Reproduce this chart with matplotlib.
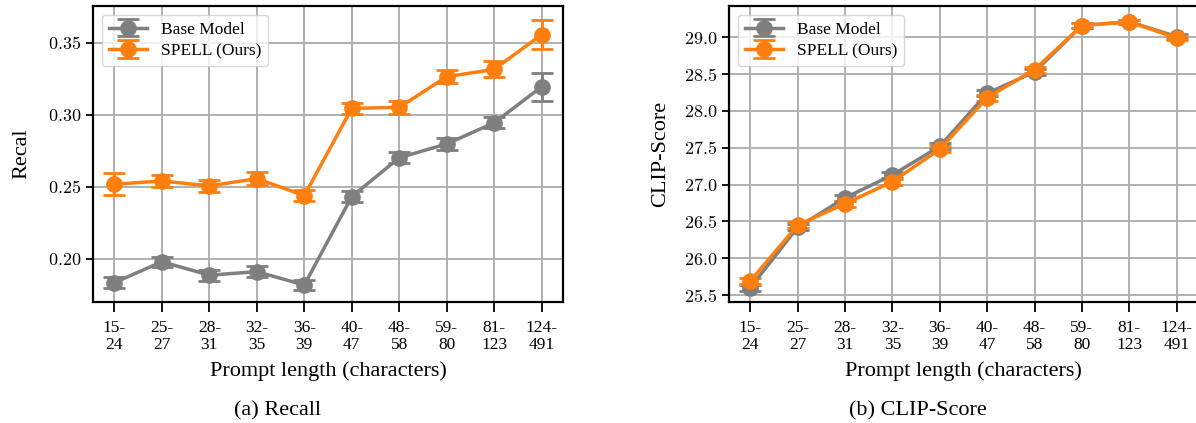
import numpy
import matplotlib
matplotlib.use("Agg")
import matplotlib.pyplot as plt
from matplotlib.ticker import FormatStrFormatter, MultipleLocator

length_bins = ["15-\n24", "25-\n27", "28-\n31", "32-\n35", "36-\n39",
               "40-\n47", "48-\n58", "59-\n80", "81-\n123", "124-\n491"]

recall_base = [0.1833, 0.1979, 0.1885, 0.1910, 0.1817, 0.2431, 0.2701, 0.2797, 0.2944, 0.3194]
recall_base_err = [0.0039, 0.0035, 0.0037, 0.0040, 0.0035, 0.0037, 0.0037, 0.0039, 0.0038, 0.0097]
recall_spell = [0.2517, 0.2540, 0.2505, 0.2556, 0.2438, 0.3044, 0.3051, 0.3264, 0.3315, 0.3556]
recall_spell_err = [0.0076, 0.0040, 0.0044, 0.0045, 0.0040, 0.0038, 0.0046, 0.0044, 0.0056, 0.0102]

clip_base = [25.60, 26.42, 26.82, 27.13, 27.52, 28.24, 28.53, 29.16, 29.21, 29.01]
clip_base_err = [0.04, 0.04, 0.04, 0.04, 0.04, 0.04, 0.04, 0.03, 0.03, 0.03]
clip_spell = [25.69, 26.45, 26.74, 27.04, 27.48, 28.18, 28.56, 29.16, 29.21, 28.99]
clip_spell_err = [0.04, 0.04, 0.04, 0.04, 0.04, 0.04, 0.04, 0.03, 0.03, 0.03]

plt.rcParams["font.family"] = ["Liberation Serif", "DejaVu Serif"]
plt.rcParams["mathtext.fontset"] = "cm"

GRAY = "#7f7f7f"
ORANGE = "#ff7f0e"


def draw_panel(ax, base, base_err, spell, spell_err, ylabel, yfmt, ypad):
    x = numpy.arange(len(length_bins))
    style = dict(marker="o", markersize=11, linewidth=2.5, elinewidth=2,
                 capsize=8, capthick=2)
    ax.errorbar(x, base, yerr=base_err, color=GRAY, label="Base Model", **style)
    ax.errorbar(x, spell, yerr=spell_err, color=ORANGE, label="SPELL (Ours)", **style)
    ax.set_xticks(x)
    ax.set_xticklabels(length_bins, fontsize=12.5, linespacing=1.1)
    ax.yaxis.set_major_formatter(FormatStrFormatter(yfmt))
    ax.tick_params(axis="y", labelsize=13, length=5, width=1.3)
    ax.tick_params(axis="x", length=7, width=1.3, pad=6)
    ax.grid(True, color="#b0b0b0", linewidth=1.4)
    ax.set_axisbelow(True)
    for s in ax.spines.values():
        s.set_linewidth(1.6)
    ax.set_xlabel("Prompt length (characters)", fontsize=16, labelpad=6)
    ax.set_ylabel(ylabel, fontsize=16, labelpad=ypad)
    ax.legend(loc="upper left", fontsize=12.5, framealpha=0.8, edgecolor="#cccccc",
              handlelength=2.2, borderpad=0.4, labelspacing=0.3)


fig = plt.figure(figsize=(11.96, 4.23), dpi=100)
ax1 = fig.add_axes([93 / 1196, 121 / 423, 470 / 1196, 296 / 423])
ax2 = fig.add_axes([729 / 1196, 121 / 423, 469 / 1196, 296 / 423])

draw_panel(ax1, recall_base, recall_base_err, recall_spell, recall_spell_err,
           "Recal", "$%.2f$", 12)
ax1.set_ylim(0.1699, 0.3755)

draw_panel(ax2, clip_base, clip_base_err, clip_spell, clip_spell_err,
           "CLIP-Score", "$%.1f$", 10)
ax2.yaxis.set_major_locator(MultipleLocator(0.5))
ax2.set_ylim(25.405, 29.425)

fig.text(278 / 1196, 1 - 411 / 423, "(a) Recall", fontsize=16, ha="center", va="center")
fig.text(918 / 1196, 1 - 411 / 423, "(b) CLIP-Score", fontsize=16, ha="center", va="center")

fig.savefig("out.png", dpi=100)
